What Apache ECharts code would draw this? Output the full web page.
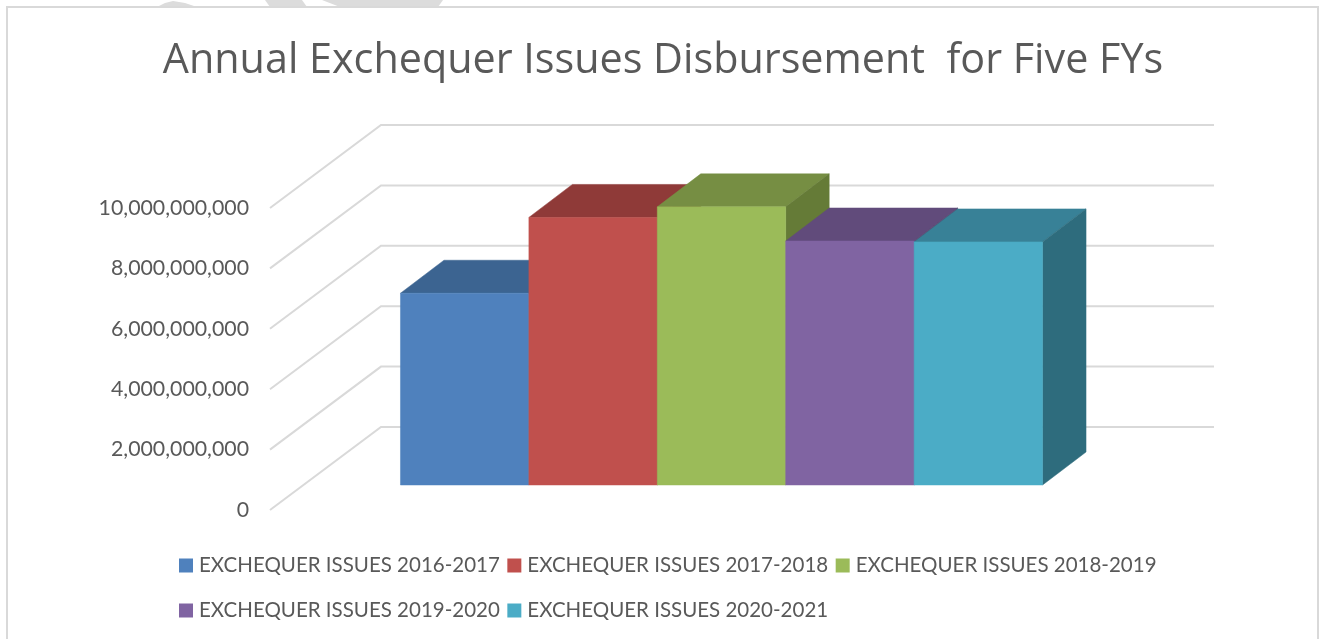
<!DOCTYPE html>
<html>
<head>
<meta charset="utf-8">
<title>Annual Exchequer Issues Disbursement for Five FYs</title>
<script src="https://cdn.jsdelivr.net/npm/echarts@6/dist/echarts.min.js"></script>
<style>
    html, body { margin: 0; padding: 0; background: #fff; }
    #chart { width: 1321px; height: 639px; }
</style>
</head>
<body>
<div id="chart"></div>
<script>
// 数据
const titleText = 'Annual Exchequer Issues Disbursement  for Five FYs';
const seriesNames = [
    'EXCHEQUER ISSUES 2016-2017',
    'EXCHEQUER ISSUES 2017-2018',
    'EXCHEQUER ISSUES 2018-2019',
    'EXCHEQUER ISSUES 2019-2020',
    'EXCHEQUER ISSUES 2020-2021'
];
const issueValues = [6350000000, 8860000000, 9210000000, 8080000000, 8050000000];
const yTicks = [0, 2000000000, 4000000000, 6000000000, 8000000000, 10000000000];

// 颜色
const frontColors = ['#4f81bd', '#c0504d', '#9bbb59', '#8064a2', '#4bacc6'];
const topColors = ['#3c6491', '#8f3a38', '#768e43', '#614b7b', '#388197'];
const sideColors = ['#335578', '#7a3230', '#657b37', '#523f69', '#2e6c7d'];

const FONT = 'Lato';
const TITLE_FONT = '"Open Sans"';
const TEXT_COLOR = '#595959';

// 假3D的偏移量
const WALL_DX = 111, WALL_DY = 83;    // 前面到后墙
const BAR_DX = 33.4, BAR_DY = 25;     // 前面到柱子正面
const DEPTH_DX = 43.5, DEPTH_DY = 33; // 柱子厚度
const X_MIN = -0.756, X_MAX = 5.731;

function poly(points, color) {
    return {type: 'polygon', shape: {points: points}, style: {fill: color, stroke: color, lineWidth: 0.5}};
}

// 网格线：左墙斜线 + 后墙横线
function renderGridLine(params, api) {
    const left = api.coord([X_MIN, api.value(0)]);
    const right = api.coord([X_MAX, api.value(0)]);
    return {
        type: 'polyline',
        shape: {
            points: [
                left,
                [left[0] + WALL_DX, left[1] - WALL_DY],
                [right[0] + WALL_DX, right[1] - WALL_DY]
            ]
        },
        style: {fill: null, stroke: '#d9d9d9', lineWidth: 2}
    };
}

// 一根3D柱子：正面、顶面、侧面
function renderBar(i) {
    return function (params, api) {
        const a = api.coord([api.value(0), api.value(1)]);
        const b = api.coord([api.value(0) + 1, 0]);
        const x0 = a[0] + BAR_DX, x1 = b[0] + BAR_DX;
        const y0 = a[1] - BAR_DY, y1 = b[1] - BAR_DY;
        return {
            type: 'group',
            children: [
                poly([[x0, y0], [x1, y0], [x1 + DEPTH_DX, y0 - DEPTH_DY], [x0 + DEPTH_DX, y0 - DEPTH_DY]], topColors[i]),
                poly([[x1, y0], [x1 + DEPTH_DX, y0 - DEPTH_DY], [x1 + DEPTH_DX, y1 - DEPTH_DY], [x1, y1]], sideColors[i]),
                poly([[x0, y0], [x1, y0], [x1, y1], [x0, y1]], frontColors[i])
            ]
        };
    };
}

function buildSeries() {
    let series = [{
        type: 'custom',
        name: 'grid',
        silent: true,
        renderItem: renderGridLine,
        data: yTicks.map(v => [v]),
        encode: {y: 0},
        clip: false
    }];
    seriesNames.forEach((name, i) => {
        series.push({
            type: 'custom',
            name: name,
            renderItem: renderBar(i),
            itemStyle: {color: frontColors[i]},
            data: [[i, issueValues[i]]],
            encode: {x: 0, y: 1},
            clip: false
        });
    });
    return series;
}

function legendOf(names, top) {
    return {
        data: names,
        left: 179,
        top: top,
        padding: 0,
        orient: 'horizontal',
        icon: 'rect',
        itemWidth: 14,
        itemHeight: 14,
        itemGap: 7.5,
        textStyle: {fontFamily: FONT, fontSize: 20.5, color: TEXT_COLOR, padding: [0, 0, 0, 1]}
    };
}

const chart = echarts.init(document.getElementById('chart'), null, {renderer: 'canvas'});
chart.setOption({
    animation: false,
    backgroundColor: '#fff',
    title: {
        text: titleText,
        left: 658,
        textAlign: 'center',
        top: 36,
        textStyle: {fontFamily: TITLE_FONT, fontWeight: 'normal', fontSize: 41.3, color: TEXT_COLOR}
    },
    legend: [legendOf(seriesNames.slice(0, 3), 555), legendOf(seriesNames.slice(3), 600)],
    grid: {left: 270, right: 218, top: 208, bottom: 129},
    xAxis: {type: 'value', min: X_MIN, max: X_MAX, show: false},
    yAxis: {
        type: 'value',
        min: 0,
        max: 10000000000,
        interval: 2000000000,
        axisLine: {show: false},
        axisTick: {show: false},
        splitLine: {show: false},
        axisLabel: {
            margin: 21,
            fontFamily: FONT,
            fontSize: 21.3,
            color: TEXT_COLOR,
            padding: [6, 0, 0, 0],
            formatter: v => v.toLocaleString('en-US')
        }
    },
    // 外框和顶部露出的灰色水印
    graphic: [
        {type: 'polygon', silent: true, z: -1, shape: {points: [[157, 7], [165, 3], [173, 1], [185, 3], [197, 7]]}, style: {fill: '#dcdcdc'}},
        {type: 'polygon', silent: true, z: -1, shape: {points: [[265, 0], [302, 0], [307, 7], [270, 7]]}, style: {fill: '#dcdcdc'}},
        {type: 'polygon', silent: true, z: -1, shape: {points: [[322, 0], [443, 0], [438, 7], [340, 7]]}, style: {fill: '#dcdcdc'}},
        {type: 'rect', silent: true, z: -1, shape: {x: 7, y: 7, width: 1311, height: 660}, style: {fill: '#fff', stroke: '#d9d9d9', lineWidth: 2}}
    ],
    series: buildSeries()
});
</script>
</body>
</html>
